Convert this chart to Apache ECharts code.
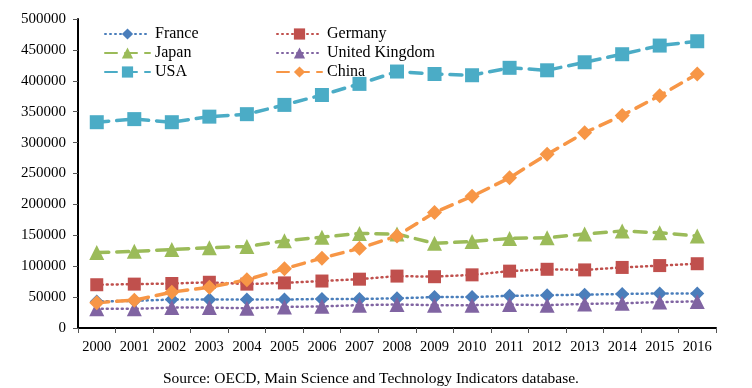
<!DOCTYPE html>
<html><head><meta charset="utf-8">
<script src="https://cdn.jsdelivr.net/npm/echarts@6/dist/echarts.min.js"></script>
<style>html,body{margin:0;padding:0;background:#fff}#c{width:752px;height:388px}</style>
</head><body><div id="c"></div>
<script>
const years = ['2000','2001','2002','2003','2004','2005','2006','2007','2008','2009','2010','2011','2012','2013','2014','2015','2016'];
const france = [43000,44000,46000,46000,46000,46000,47000,47000,48000,50000,50000,52000,53000,54000,55000,56000,56000];
const germany = [70000,71000,72000,74000,71000,73000,76000,79000,84000,83000,86000,92000,95000,94000,98000,101000,104000];
const japan = [122000,124000,127000,130000,132000,141000,147000,153000,152000,137000,140000,145000,146000,152000,157000,154000,149000];
const uk = [31000,31000,33000,33000,32000,34000,35000,37000,38000,37000,37000,38000,37000,39000,40000,42000,43000];
const usa = [333000,338000,333000,342000,346000,361000,377000,395000,415000,411000,409000,421000,417000,430000,443000,457000,464000];
const china = [41000,45000,58000,66000,78000,96000,113000,129000,149000,187000,213000,243000,281000,316000,344000,376000,411000];
const sourceText = 'Source: OECD, Main Science and Technology Indicators database.';

const font = '"Liberation Serif","Times New Roman",serif';
function s(name, data, color, symbol, size, dash, width){
  return {name, type:'line', data, symbol, symbolSize:size, color,
    itemStyle:{color},
    lineStyle:{color, width, type:dash, cap:'round'}, z: 2};
}
const chart = echarts.init(document.getElementById('c'));
chart.setOption({
  animation:false,
  textStyle:{fontFamily:font},
  grid:{left:78,right:36,top:19,bottom:60},
  title:{text:sourceText,left:366,top:366,textAlign:'center',
    textStyle:{fontFamily:font,fontSize:15.5,fontWeight:'normal',color:'#000'}},
  legend:[
    {data:['France','Japan','USA'],orient:'vertical',left:99,top:21,itemGap:3,itemWidth:45,itemHeight:14,
     textStyle:{fontFamily:font,fontSize:16,color:'#000'}},
    {data:['Germany','United Kingdom','China'],orient:'vertical',left:271,top:21,itemGap:3,itemWidth:45,itemHeight:14,
     textStyle:{fontFamily:font,fontSize:16,color:'#000'}}
  ],
  xAxis:{type:'category',data:years,boundaryGap:true,
    axisLine:{lineStyle:{color:'#000',width:2}},
    axisTick:{show:true,alignWithLabel:false,length:5,lineStyle:{color:'#555'}},
    axisLabel:{fontFamily:font,fontSize:14.5,color:'#000',margin:12,interval:0}},
  yAxis:{type:'value',min:0,max:500000,interval:50000,
    axisLine:{show:true,lineStyle:{color:'#000',width:2}},
    axisTick:{show:true,length:5,lineStyle:{color:'#555'}},
    splitLine:{show:false},
    axisLabel:{fontFamily:font,fontSize:15,color:'#000',margin:12,formatter:v=>String(v)}},
  series:[
    s('France',france,'#4a7ebb','diamond',14,[1,4],2.5),
    s('Germany',germany,'#c0504d','rect',13,[1,4],2.5),
    s('Japan',japan,'#9bbb59','triangle',15,[12,8],3.5),
    s('United Kingdom',uk,'#8064a2','triangle',15,[1,4],2.5),
    s('USA',usa,'#4bacc6','rect',14,[12,8],3.5),
    s('China',china,'#f79646','diamond',15,[12,8],3.5)
  ]
});
</script></body></html>
